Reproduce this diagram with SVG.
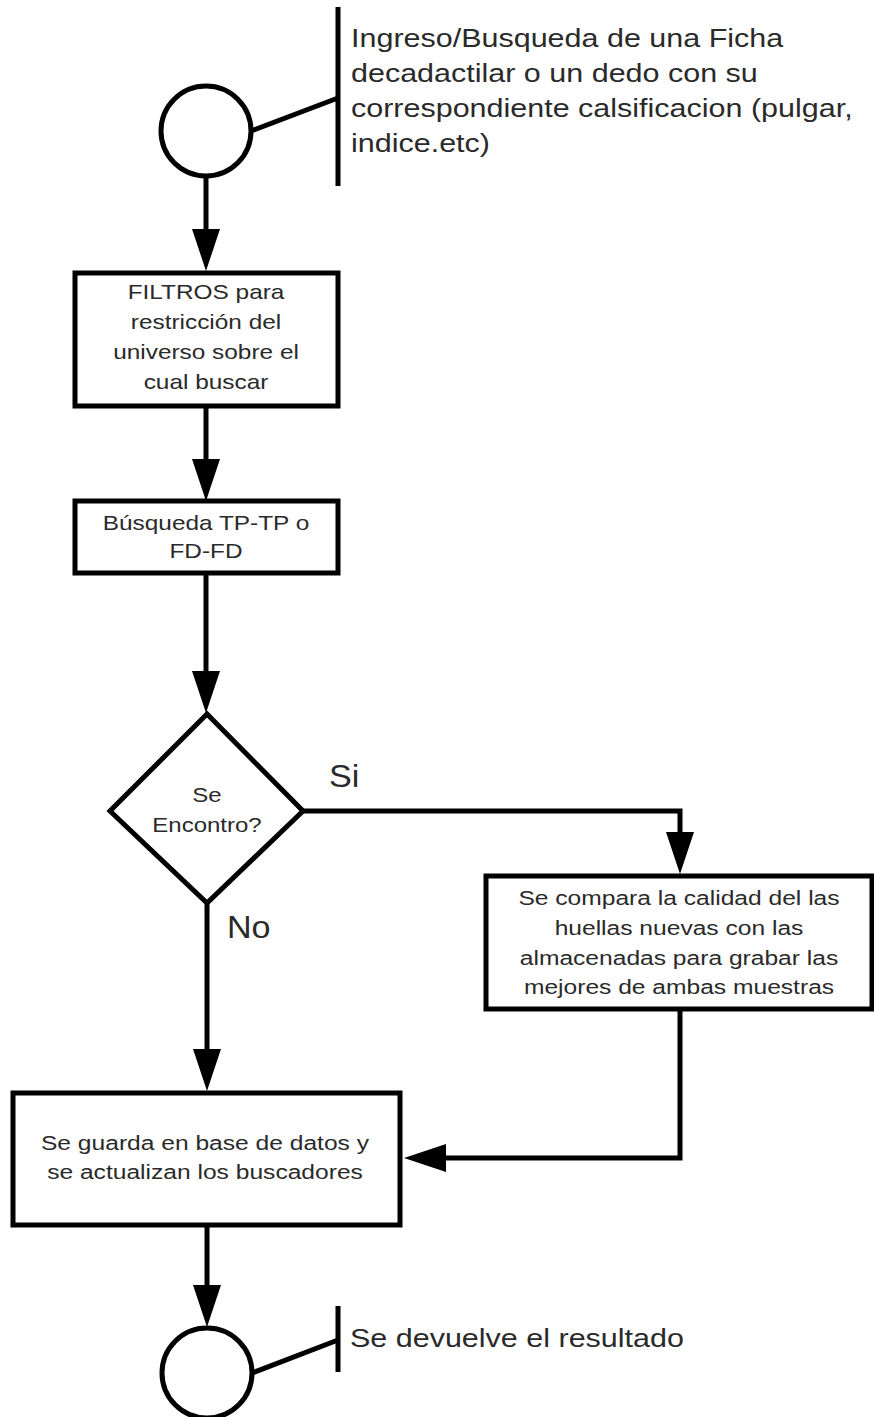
<svg xmlns="http://www.w3.org/2000/svg" width="874" height="1417" viewBox="0 0 874 1417">
<defs>
<marker id="arr" markerUnits="userSpaceOnUse" markerWidth="44" markerHeight="30" refX="0" refY="15" orient="auto" overflow="visible">
<path d="M0,1 L42,15 L0,29 Z" fill="#000"/>
</marker>
</defs>
<style>
.sh{fill:#fff;stroke:#000;stroke-width:5}
.ln{fill:none;stroke:#000;stroke-width:5}
.cn{fill:none;stroke:#000;stroke-width:5;marker-end:url(#arr)}
text{font-family:"Liberation Sans",Arial,sans-serif;fill:#2a2a2a}
.bt{font-size:20px;text-anchor:middle}
.lt{font-size:25px}
.yn{font-size:31px}
</style>
<rect width="874" height="1417" fill="#fff"/>
<g id="connectors">
<path class="cn" d="M206,176 L206,229"/>
<path class="cn" d="M206,406 L206,459"/>
<path class="cn" d="M206,573 L206,671"/>
<path class="cn" d="M303,811 L680,811 L680,832"/>
<path class="cn" d="M207,903 L207,1049"/>
<path class="cn" d="M680,1009 L680,1158 L446,1158"/>
<path class="cn" d="M207,1225 L207,1285"/>
<path class="ln" d="M251,131 L338,98"/>
<path class="ln" d="M252,1373 L338,1340"/>
</g>
<g id="start">
<circle class="sh" cx="206" cy="131" r="45"/>
</g>
<g id="note-start">
<line class="ln" x1="338" y1="7" x2="338" y2="186"/>
<g transform="translate(351,0) scale(1.22,1)">
<text class="lt" x="0" y="47">Ingreso/Busqueda de una Ficha</text>
<text class="lt" x="0" y="82">decadactilar o un dedo con su</text>
<text class="lt" x="0" y="117">correspondiente calsificacion (pulgar,</text>
<text class="lt" x="0" y="152">indice.etc)</text>
</g>
</g>
<g id="filtros">
<rect class="sh" x="75" y="273" width="263" height="133"/>
<g transform="translate(206,0) scale(1.22,1)">
<text class="bt" x="0" y="299">FILTROS para</text>
<text class="bt" x="0" y="329">restricción del</text>
<text class="bt" x="0" y="359">universo sobre el</text>
<text class="bt" x="0" y="389">cual buscar</text>
</g>
</g>
<g id="busqueda">
<rect class="sh" x="75" y="501" width="263" height="72"/>
<g transform="translate(206,0) scale(1.22,1)">
<text class="bt" x="0" y="530">Búsqueda TP-TP o</text>
<text class="bt" x="0" y="558">FD-FD</text>
</g>
</g>
<g id="decision">
<polygon class="sh" points="207,714 303,811 207,903 110,811"/>
<g transform="translate(207,0) scale(1.2,1)">
<text class="bt" x="0" y="802">Se</text>
<text class="bt" x="0" y="832">Encontro?</text>
</g>
<g transform="translate(329,0) scale(1.1,1)"><text class="yn" x="0" y="787">Si</text></g>
<g transform="translate(227,0) scale(1.1,1)"><text class="yn" x="0" y="938">No</text></g>
</g>
<g id="compara">
<rect class="sh" x="486" y="876" width="386" height="133"/>
<g transform="translate(679,0) scale(1.23,1)">
<text class="bt" x="0" y="905">Se compara la calidad del las</text>
<text class="bt" x="0" y="935">huellas nuevas con las</text>
<text class="bt" x="0" y="965">almacenadas para grabar las</text>
<text class="bt" x="0" y="994">mejores de ambas muestras</text>
</g>
</g>
<g id="guarda">
<rect class="sh" x="13" y="1093" width="387" height="132"/>
<g transform="translate(205,0) scale(1.23,1)">
<text class="bt" x="0" y="1150">Se guarda en base de datos y</text>
<text class="bt" x="0" y="1179">se actualizan los buscadores</text>
</g>
</g>
<g id="end">
<circle class="sh" cx="207" cy="1373" r="45"/>
</g>
<g id="note-end">
<line class="ln" x1="338" y1="1306" x2="338" y2="1372"/>
<g transform="translate(350,0) scale(1.22,1)">
<text class="lt" x="0" y="1347">Se devuelve el resultado</text>
</g>
</g>
</svg>
